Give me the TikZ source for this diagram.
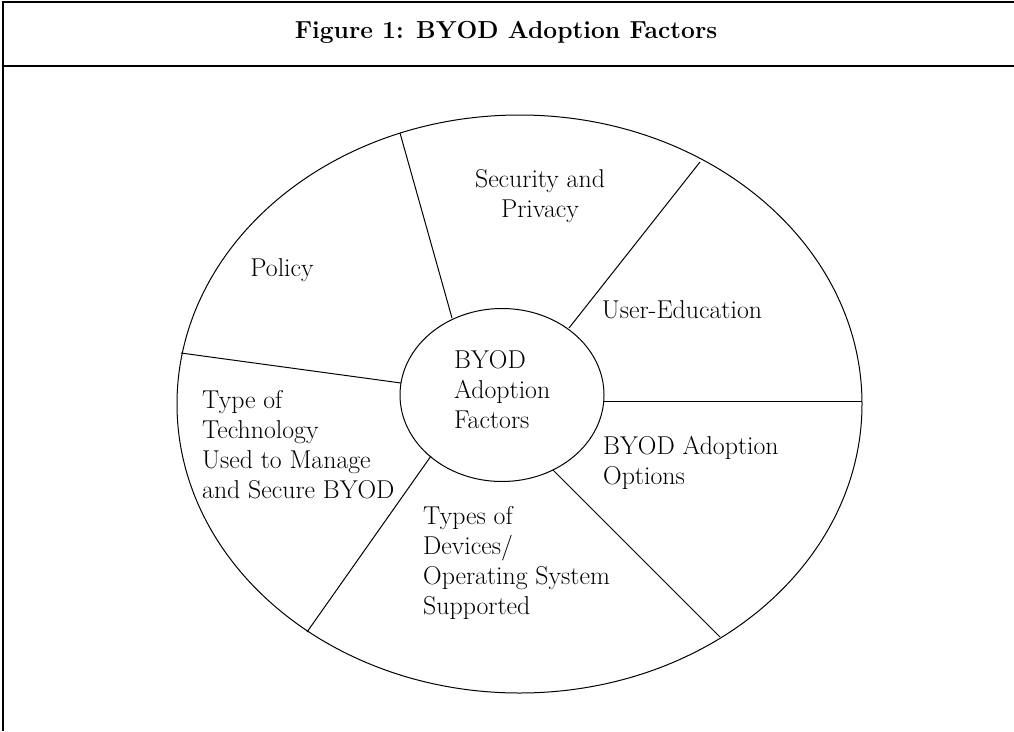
\documentclass[tikz,border=0pt]{standalone}
\usepackage{fontspec}
\usetikzlibrary{shapes.geometric}
\tikzset{
  frameline/.style={line width=1.3pt, draw=black},
  divider/.style={line width=1pt, draw=black},
  ring/.style={ellipse, draw=black, line width=1pt, inner sep=0pt},
  lbl/.style={inner sep=0pt, font=\fontsize{25.8}{30}\selectfont},
  ttl/.style={inner sep=0pt, font=\fontsize{24.6}{30}\selectfont\bfseries}
}
\begin{document}
\begin{tikzpicture}[x=1pt,y=-1pt]
\useasboundingbox (0,0) rectangle (1014,731);
% frame
\coordinate (ftr) at (1014,2);
\coordinate (ftl) at (3,2);
\coordinate (fbl) at (3,731);
\coordinate (sepl) at (3,66);
\coordinate (sepr) at (1014,66);
\draw[frameline] (ftr) -- (ftl) -- (fbl);
\draw[frameline] (sepl) -- (sepr);
\node[ttl] (title) at (506,32) {Figure 1: BYOD Adoption Factors};
% ellipses
\node[ring, minimum width=685pt, minimum height=578pt] (outer) at (519.5,404) {};
\node[ring, minimum width=204pt, minimum height=173pt] (core) at (502,395) {};
\node[lbl, align=left, anchor=west] (corelbl) at (454,390) {BYOD\\Adoption\\Factors};
% divider end points
\coordinate (o1) at (400,133);  \coordinate (i1) at (452,318);
\coordinate (o2) at (700,162);  \coordinate (i2) at (569,328);
\coordinate (o3) at (862,401);  \coordinate (i3) at (604,401);
\coordinate (o4) at (720,637);  \coordinate (i4) at (553,470);
\coordinate (o5) at (307,632);  \coordinate (i5) at (431,456);
\coordinate (o6) at (181,353);  \coordinate (i6) at (401,383);
\draw[divider] (o1) -- (i1);
\draw[divider] (o2) -- (i2);
\draw[divider] (o3) -- (i3);
\draw[divider] (o4) -- (i4);
\draw[divider] (o5) -- (i5);
\draw[divider] (o6) -- (i6);
% sector labels
\node[lbl, align=center] (sec) at (540,196) {Security and\\Privacy};
\node[lbl] (pol) at (282,270) {Policy};
\node[lbl] (usr) at (682,310) {User-Education};
\node[lbl, align=left, anchor=west] (opt) at (603,463) {BYOD Adoption\\Options};
\node[lbl, align=left, anchor=west] (dev) at (423,563) {Types of\\Devices/\\Operating System\\Supported};
\node[lbl, align=left, anchor=west] (tech) at (202,445) {Type of\\Technology\\Used to Manage\\and Secure BYOD};
\end{tikzpicture}
\end{document}
